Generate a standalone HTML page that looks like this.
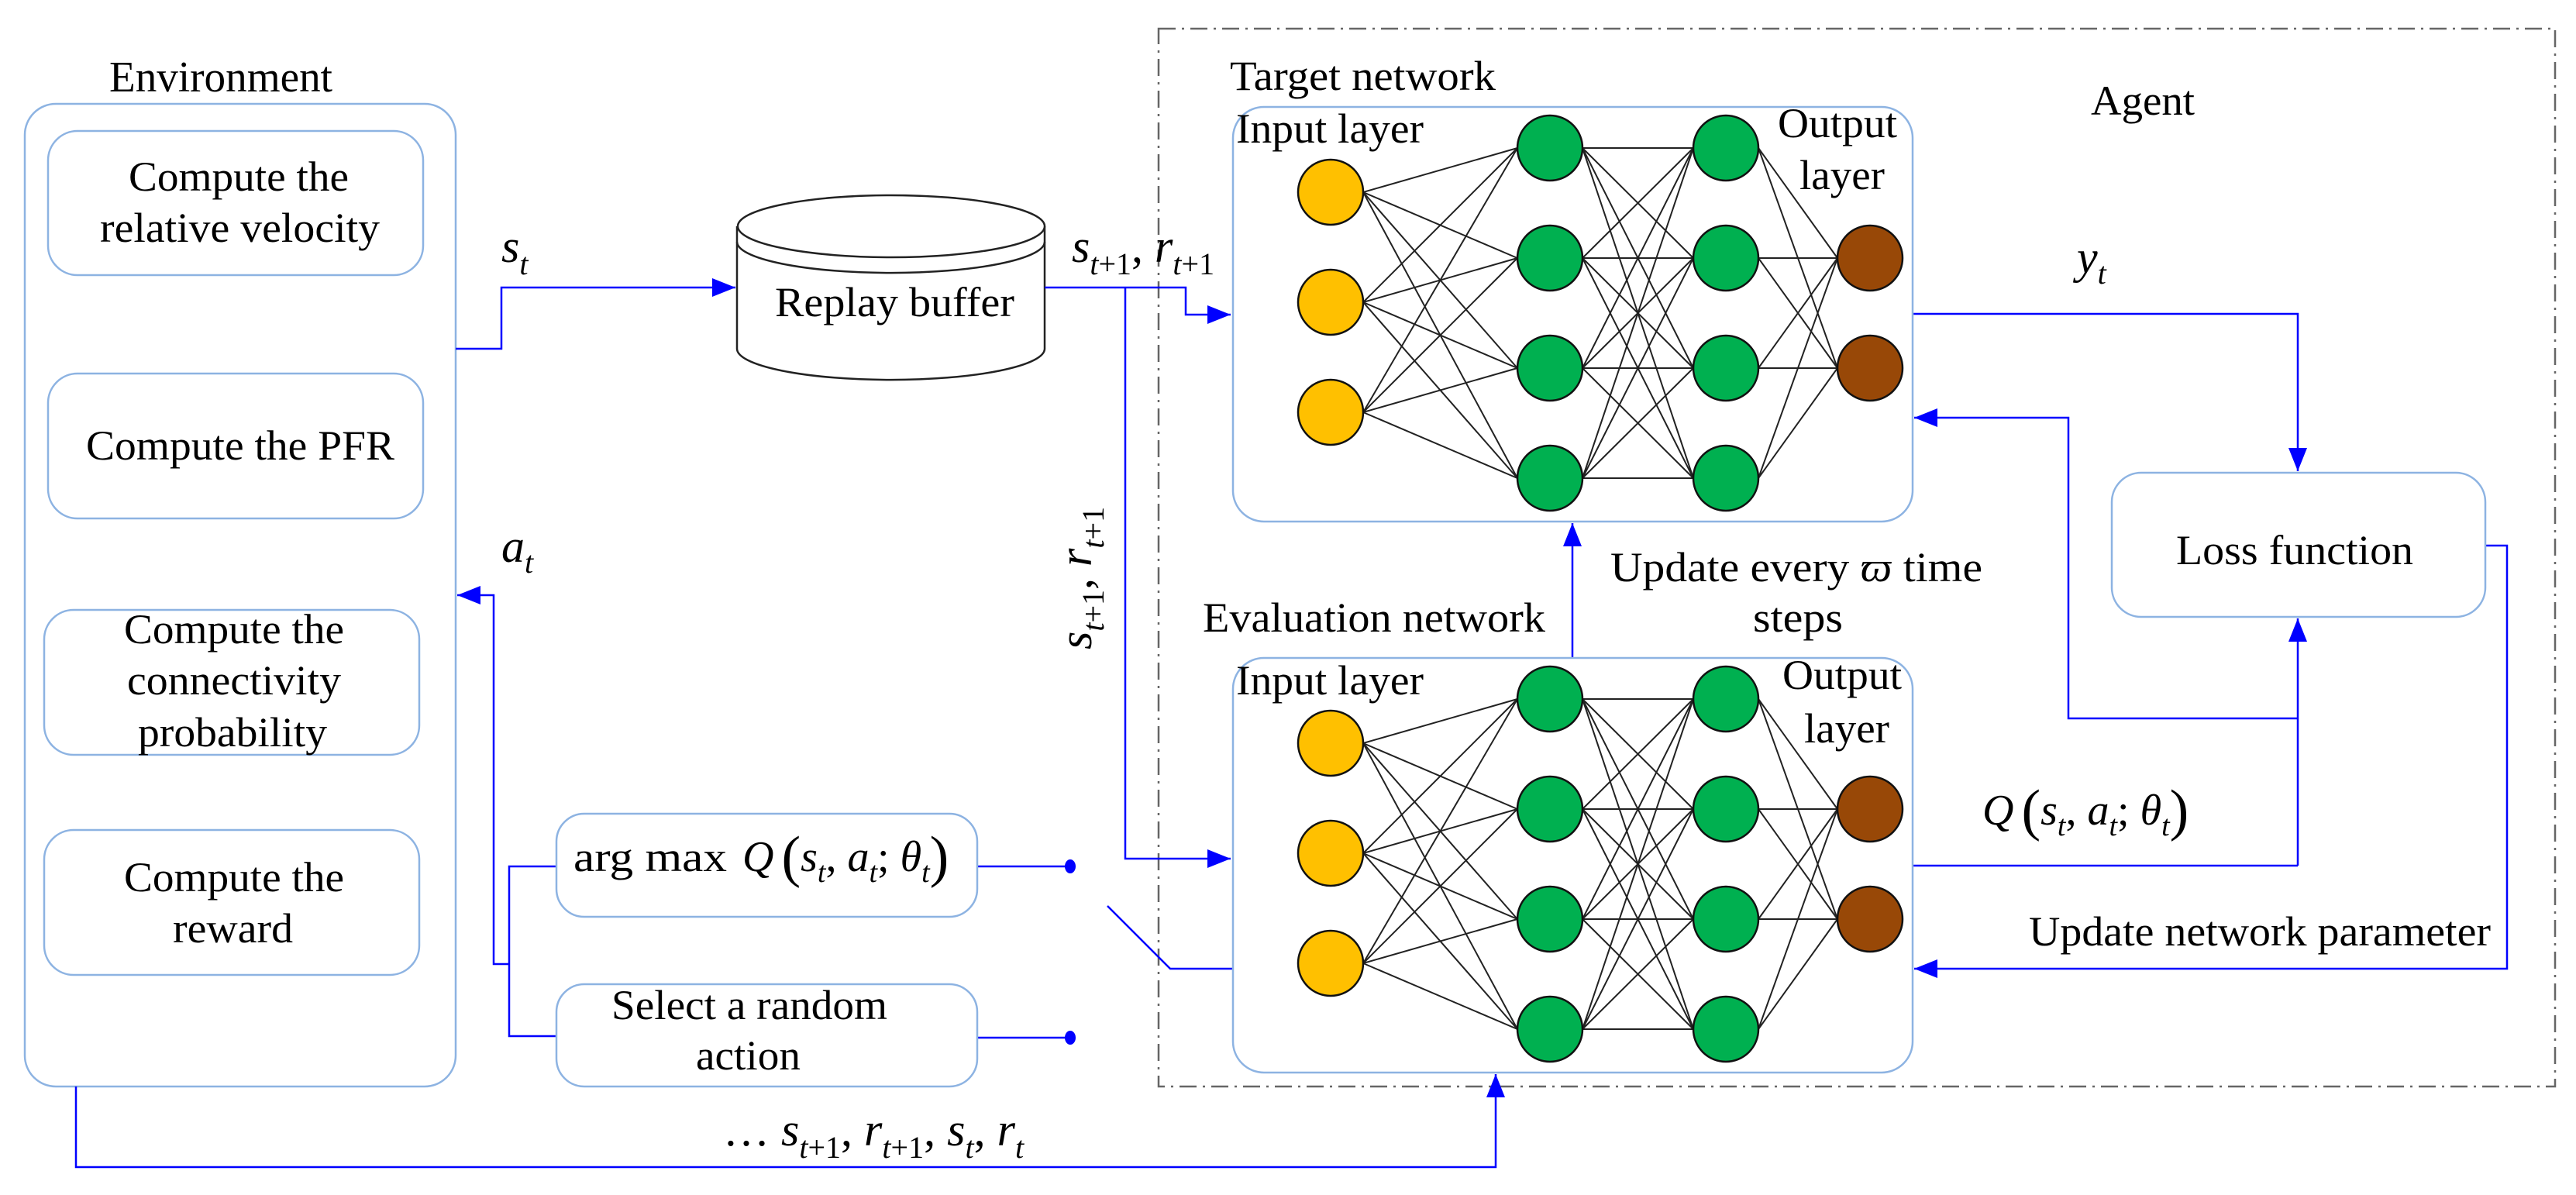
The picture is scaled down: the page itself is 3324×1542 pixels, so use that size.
<!DOCTYPE html>
<html><head><meta charset="utf-8"><style>
html,body{margin:0;padding:0;background:#fff;}
svg{display:block;font-family:"Liberation Serif","DejaVu Serif",serif;}
svg text{font-family:"Liberation Serif","DejaVu Serif",serif;fill:#000;}
.m{font-style:italic;}
</style></head><body>
<svg width="3324" height="1542" viewBox="0 0 3324 1542" xmlns="http://www.w3.org/2000/svg" font-family="Liberation Serif, DejaVu Serif, serif">
<defs>
<marker id="ah" viewBox="0 0 10 10" refX="10" refY="5" markerWidth="30" markerHeight="24" markerUnits="userSpaceOnUse" orient="auto" preserveAspectRatio="none"><path d="M0,0 L10,5 L0,10 z" fill="#0000ff"/></marker>
<g id="net">
<g stroke="#222" stroke-width="2" fill="none">
<line x1="1759" y1="248" x2="1958" y2="191"/><line x1="1759" y1="248" x2="1958" y2="333"/><line x1="1759" y1="248" x2="1958" y2="475"/><line x1="1759" y1="248" x2="1958" y2="617"/>
<line x1="1759" y1="390" x2="1958" y2="191"/><line x1="1759" y1="390" x2="1958" y2="333"/><line x1="1759" y1="390" x2="1958" y2="475"/><line x1="1759" y1="390" x2="1958" y2="617"/>
<line x1="1759" y1="532" x2="1958" y2="191"/><line x1="1759" y1="532" x2="1958" y2="333"/><line x1="1759" y1="532" x2="1958" y2="475"/><line x1="1759" y1="532" x2="1958" y2="617"/>
<line x1="2042" y1="191" x2="2185" y2="191"/><line x1="2042" y1="191" x2="2185" y2="333"/><line x1="2042" y1="191" x2="2185" y2="475"/><line x1="2042" y1="191" x2="2185" y2="617"/>
<line x1="2042" y1="333" x2="2185" y2="191"/><line x1="2042" y1="333" x2="2185" y2="333"/><line x1="2042" y1="333" x2="2185" y2="475"/><line x1="2042" y1="333" x2="2185" y2="617"/>
<line x1="2042" y1="475" x2="2185" y2="191"/><line x1="2042" y1="475" x2="2185" y2="333"/><line x1="2042" y1="475" x2="2185" y2="475"/><line x1="2042" y1="475" x2="2185" y2="617"/>
<line x1="2042" y1="617" x2="2185" y2="191"/><line x1="2042" y1="617" x2="2185" y2="333"/><line x1="2042" y1="617" x2="2185" y2="475"/><line x1="2042" y1="617" x2="2185" y2="617"/>
<line x1="2269" y1="191" x2="2371" y2="333"/><line x1="2269" y1="191" x2="2371" y2="475"/>
<line x1="2269" y1="333" x2="2371" y2="333"/><line x1="2269" y1="333" x2="2371" y2="475"/>
<line x1="2269" y1="475" x2="2371" y2="333"/><line x1="2269" y1="475" x2="2371" y2="475"/>
<line x1="2269" y1="617" x2="2371" y2="333"/><line x1="2269" y1="617" x2="2371" y2="475"/>
</g>
<g stroke="#111" stroke-width="2.5">
<circle cx="1717" cy="248" r="42" fill="#ffc000"/><circle cx="1717" cy="390" r="42" fill="#ffc000"/><circle cx="1717" cy="532" r="42" fill="#ffc000"/>
<circle cx="2000" cy="191" r="42" fill="#00b050"/><circle cx="2000" cy="333" r="42" fill="#00b050"/><circle cx="2000" cy="475" r="42" fill="#00b050"/><circle cx="2000" cy="617" r="42" fill="#00b050"/>
<circle cx="2227" cy="191" r="42" fill="#00b050"/><circle cx="2227" cy="333" r="42" fill="#00b050"/><circle cx="2227" cy="475" r="42" fill="#00b050"/><circle cx="2227" cy="617" r="42" fill="#00b050"/>
<circle cx="2413" cy="333" r="42" fill="#984807"/><circle cx="2413" cy="475" r="42" fill="#984807"/>
</g>
</g>
</defs>

<rect x="1495" y="37" width="1802" height="1365" fill="none" stroke="#666" stroke-width="2.5" stroke-dasharray="22,8,3,8"/>

<text x="141" y="118" font-size="56" textLength="288" lengthAdjust="spacingAndGlyphs">Environment</text>
<rect x="32" y="134" width="556" height="1268" rx="40" fill="none" stroke="#8db3e2" stroke-width="2.5"/>
<rect x="62" y="169" width="484" height="186" rx="38" fill="none" stroke="#8db3e2" stroke-width="2.5"/>
<text x="166" y="246" font-size="54" textLength="284" lengthAdjust="spacingAndGlyphs">Compute the</text>
<text x="129" y="312" font-size="54" textLength="361" lengthAdjust="spacingAndGlyphs">relative velocity</text>
<rect x="62" y="482" width="484" height="187" rx="38" fill="none" stroke="#8db3e2" stroke-width="2.5"/>
<text x="111" y="593" font-size="54" textLength="398" lengthAdjust="spacingAndGlyphs">Compute the PFR</text>
<rect x="57" y="787" width="484" height="187" rx="38" fill="none" stroke="#8db3e2" stroke-width="2.5"/>
<text x="160" y="830" font-size="54" textLength="284" lengthAdjust="spacingAndGlyphs">Compute the</text>
<text x="164" y="896" font-size="54" textLength="276" lengthAdjust="spacingAndGlyphs">connectivity</text>
<text x="178" y="963" font-size="54" textLength="244" lengthAdjust="spacingAndGlyphs">probability</text>
<rect x="57" y="1071" width="484" height="187" rx="38" fill="none" stroke="#8db3e2" stroke-width="2.5"/>
<text x="160" y="1150" font-size="54" textLength="284" lengthAdjust="spacingAndGlyphs">Compute the</text>
<text x="223" y="1216" font-size="54" textLength="155" lengthAdjust="spacingAndGlyphs">reward</text>

<g fill="#fff" stroke="#222" stroke-width="2.5">
<path d="M951,292 L951,450 A198,40 0 0 0 1348,450 L1348,292"/>
<ellipse cx="1150" cy="292" rx="198" ry="40"/>
<path d="M951,312 A198,40 0 0 0 1348,312" fill="none"/>
</g>
<text x="1000" y="408" font-size="54" textLength="309" lengthAdjust="spacingAndGlyphs">Replay buffer</text>

<g stroke="#0000ff" stroke-width="2.5" fill="none">
<polyline points="588,450 647,450 647,371 949,371" marker-end="url(#ah)"/>
<polyline points="1348,371 1530,371 1530,406 1588,406" marker-end="url(#ah)"/>
<polyline points="1452,371 1452,1108 1588,1108" marker-end="url(#ah)"/>
<polyline points="2468,405 2965,405 2965,608" marker-end="url(#ah)"/>
<polyline points="2965,1117 2965,798" marker-end="url(#ah)"/>
<polyline points="2468,1117 2965,1117"/>
<polyline points="2965,927 2669,927 2669,539 2470,539" marker-end="url(#ah)"/>
<polyline points="3207,704 3235,704 3235,1250 2470,1250" marker-end="url(#ah)"/>
<polyline points="2029,849 2029,675" marker-end="url(#ah)"/>
<polyline points="98,1402 98,1506 1930,1506 1930,1386" marker-end="url(#ah)"/>
<polyline points="657,1244 637,1244 637,768 590,768" marker-end="url(#ah)"/>
<polyline points="718,1118 657,1118 657,1337 718,1337"/>
<line x1="1261" y1="1118" x2="1381" y2="1118"/>
<line x1="1261" y1="1339" x2="1381" y2="1339"/>
<polyline points="1429,1169 1510,1250 1591,1250"/>
</g>
<ellipse cx="1381" cy="1118" rx="7" ry="9" fill="#0000ff"/>
<ellipse cx="1381" cy="1339" rx="7" ry="9" fill="#0000ff"/>

<rect x="718" y="1050" width="543" height="133" rx="36" fill="none" stroke="#8db3e2" stroke-width="2.5"/>
<text x="740" y="1124" font-size="54" textLength="198" lengthAdjust="spacingAndGlyphs">arg max</text>
<text x="958" y="1124" font-size="56"><tspan class="m">Q</tspan><tspan dx="10" font-size="74" dy="6">(</tspan><tspan class="m" dy="-6">s</tspan><tspan class="m" font-size="38" dy="14">t</tspan><tspan dy="-14">, </tspan><tspan class="m">a</tspan><tspan class="m" font-size="38" dy="14">t</tspan><tspan dy="-14">; </tspan><tspan class="m">θ</tspan><tspan class="m" font-size="38" dy="14">t</tspan><tspan font-size="74" dy="-8">)</tspan></text>
<rect x="718" y="1270" width="543" height="132" rx="36" fill="none" stroke="#8db3e2" stroke-width="2.5"/>
<text x="789" y="1315" font-size="54" textLength="356" lengthAdjust="spacingAndGlyphs">Select a random</text>
<text x="898" y="1380" font-size="54" textLength="135" lengthAdjust="spacingAndGlyphs">action</text>

<text x="647" y="338" font-size="60" class="m">s<tspan font-size="40" dy="16">t</tspan></text>
<text x="647" y="725" font-size="60" class="m">a<tspan font-size="40" dy="14">t</tspan></text>
<text x="1383" y="338" font-size="60"><tspan class="m">s</tspan><tspan class="m" font-size="40" dy="16">t</tspan><tspan font-size="40">+1</tspan><tspan dy="-16">, </tspan><tspan class="m">r</tspan><tspan class="m" font-size="40" dy="16">t</tspan><tspan font-size="40">+1</tspan></text>
<text transform="translate(1408,838) rotate(-90)" font-size="60"><tspan class="m">s</tspan><tspan class="m" font-size="40" dy="16">t</tspan><tspan font-size="40">+1</tspan><tspan dy="-16">, </tspan><tspan class="m">r</tspan><tspan class="m" font-size="40" dy="16">t</tspan><tspan font-size="40">+1</tspan></text>
<text x="2680" y="352" font-size="60" class="m">y<tspan font-size="40" dy="14">t</tspan></text>
<text x="933" y="1478" font-size="60"><tspan>… </tspan><tspan class="m">s</tspan><tspan class="m" font-size="40" dy="16">t</tspan><tspan font-size="40">+1</tspan><tspan dy="-16">, </tspan><tspan class="m">r</tspan><tspan class="m" font-size="40" dy="16">t</tspan><tspan font-size="40">+1</tspan><tspan dy="-16">, </tspan><tspan class="m">s</tspan><tspan class="m" font-size="40" dy="16">t</tspan><tspan dy="-16">, </tspan><tspan class="m">r</tspan><tspan class="m" font-size="40" dy="16">t</tspan></text>
<text x="2558" y="1064" font-size="56"><tspan class="m">Q</tspan><tspan dx="10" font-size="74" dy="6">(</tspan><tspan class="m" dy="-6">s</tspan><tspan class="m" font-size="38" dy="14">t</tspan><tspan dy="-14">, </tspan><tspan class="m">a</tspan><tspan class="m" font-size="38" dy="14">t</tspan><tspan dy="-14">; </tspan><tspan class="m">θ</tspan><tspan class="m" font-size="38" dy="14">t</tspan><tspan font-size="74" dy="-8">)</tspan></text>

<text x="1587" y="116" font-size="54" textLength="343" lengthAdjust="spacingAndGlyphs">Target network</text>
<rect x="1591" y="138" width="877" height="535" rx="40" fill="#fff" stroke="#8db3e2" stroke-width="2.5"/>
<use href="#net"/>
<text x="1595" y="184" font-size="54" textLength="242" lengthAdjust="spacingAndGlyphs">Input layer</text>
<text x="2294" y="177" font-size="54" textLength="154" lengthAdjust="spacingAndGlyphs">Output</text>
<text x="2322" y="244" font-size="54" textLength="110" lengthAdjust="spacingAndGlyphs">layer</text>

<text x="2698" y="148" font-size="54" textLength="134" lengthAdjust="spacingAndGlyphs">Agent</text>

<rect x="2725" y="610" width="482" height="186" rx="38" fill="none" stroke="#8db3e2" stroke-width="2.5"/>
<text x="2808" y="728" font-size="54" textLength="306" lengthAdjust="spacingAndGlyphs">Loss function</text>

<text x="2078" y="750" font-size="54" textLength="480" lengthAdjust="spacingAndGlyphs">Update every <tspan class="m">ϖ</tspan>  time</text>
<text x="2262" y="815" font-size="54" textLength="116" lengthAdjust="spacingAndGlyphs">steps</text>
<text x="1552" y="815" font-size="54" textLength="442" lengthAdjust="spacingAndGlyphs">Evaluation network</text>

<rect x="1591" y="849" width="877" height="535" rx="40" fill="#fff" stroke="#8db3e2" stroke-width="2.5"/>
<use href="#net" transform="translate(0,711)"/>
<text x="1595" y="896" font-size="54" textLength="242" lengthAdjust="spacingAndGlyphs">Input layer</text>
<text x="2300" y="889" font-size="54" textLength="154" lengthAdjust="spacingAndGlyphs">Output</text>
<text x="2328" y="958" font-size="54" textLength="110" lengthAdjust="spacingAndGlyphs">layer</text>

<text x="2618" y="1220" font-size="54" textLength="596" lengthAdjust="spacingAndGlyphs">Update network parameter</text>
</svg>
</body></html>
